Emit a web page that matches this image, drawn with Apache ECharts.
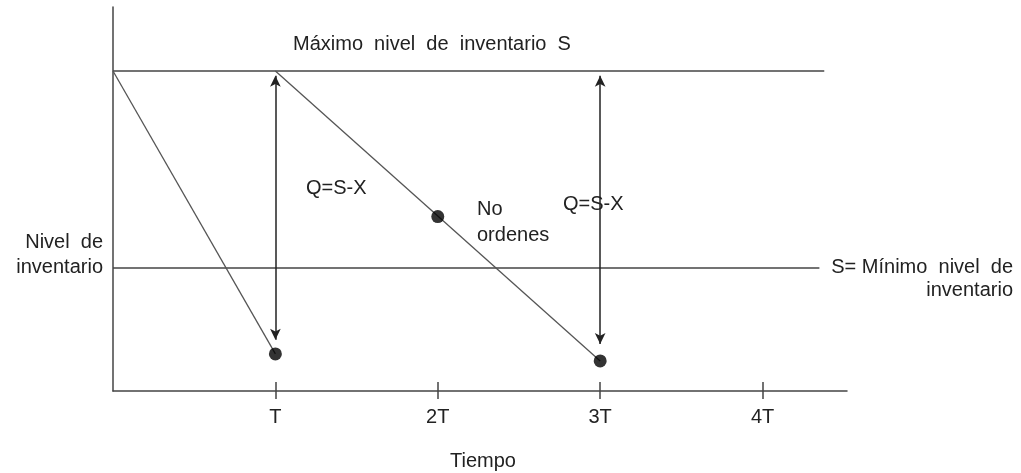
<!DOCTYPE html>
<html>
<head>
<meta charset="utf-8">
<script src="https://cdn.jsdelivr.net/npm/echarts@6/dist/echarts.min.js"></script>
<style>
  html, body { margin: 0; padding: 0; background: #fff; }
  #chart { width: 1021px; height: 473px; }
</style>
</head>
<body>
<div id="chart"></div>
<script>
// Periods on the time axis (in units of T) and their labels
const periods = [1, 2, 3, 4];
const periodLabels = ['', 'T', '2T', '3T', '4T'];

// Inventory levels
const maxLevel = 100;   // máximo nivel de inventario S
const minLevel = 38.4;  // mínimo nivel de inventario
const axisEnd = 4.52;
const maxLineEnd = 4.38;
const minLineEnd = 4.35;

// Consumption segments between reviews
const firstCycle = [[0, 100], [1, 11.6]];
const secondCycle = [[1, 100], [3, 9.4]];

// Review points (inventory at T, 2T, 3T)
const reviewPoints = [[1, 11.6], [2, 54.5], [3, 9.4]];

// Order quantity arrows Q = S - X
const orderArrows = [
  [[1, 98.5], [1, 16]],
  [[3, 98.5], [3, 14.7]]
];

const ink = '#222';
const lineGray = '#444';
const font = '"Liberation Sans", Arial, sans-serif';

const chart = echarts.init(document.getElementById('chart'));

const textEl = (x, y, text, align, lh) => ({
  type: 'text',
  x: x, y: y,
  style: {
    text: text, fill: ink, font: '20px ' + font,
    textAlign: align || 'left', textVerticalAlign: 'middle', lineHeight: lh || 24
  }
});

chart.setOption({
  animation: false,
  backgroundColor: '#fff',
  grid: { left: 113, right: 174, top: 7, bottom: 82 },
  xAxis: [
    {
      type: 'value', min: 0, max: axisEnd, interval: 1,
      axisLine: { lineStyle: { color: lineGray, width: 1.5 } },
      axisTick: { show: true, length: 8, lineStyle: { color: lineGray, width: 1.5 },
        customValues: periods },
      axisLabel: { color: ink, fontSize: 20, fontFamily: font, margin: 16,
        customValues: periods,
        formatter: v => periodLabels[Math.round(v)] || '' },
      splitLine: { show: false }
    },
    {
      type: 'value', min: 0, max: axisEnd, interval: 1, position: 'bottom',
      axisLine: { show: false },
      axisTick: { show: true, inside: true, length: 9, lineStyle: { color: lineGray, width: 1.5 },
        customValues: periods },
      axisLabel: { show: false },
      splitLine: { show: false }
    }
  ],
  yAxis: {
    type: 'value', min: 0, max: 120,
    axisLine: { show: true, lineStyle: { color: lineGray, width: 1.5 } },
    axisTick: { show: false },
    axisLabel: { show: false },
    splitLine: { show: false }
  },
  series: [
    {
      type: 'line', data: [[0, maxLevel], [maxLineEnd, maxLevel]],
      symbol: 'none', lineStyle: { color: lineGray, width: 1.5 }, z: 2
    },
    {
      type: 'line', data: [[0, minLevel], [minLineEnd, minLevel]],
      symbol: 'none', lineStyle: { color: lineGray, width: 1.5 }, z: 2
    },
    {
      type: 'line', data: firstCycle,
      symbol: 'none', lineStyle: { color: '#555', width: 1.3 }, z: 2
    },
    {
      type: 'line', data: secondCycle,
      symbol: 'none', lineStyle: { color: '#555', width: 1.3 }, z: 2,
      markLine: {
        silent: true,
        symbol: ['arrow', 'arrow'],
        symbolSize: [8, 11],
        label: { show: false },
        lineStyle: { color: '#222', width: 1.5, type: 'solid' },
        data: orderArrows.map(a => [{ coord: a[0] }, { coord: a[1] }])
      }
    },
    {
      type: 'scatter', data: reviewPoints,
      symbol: 'circle', symbolSize: 13,
      itemStyle: { color: '#000' }, z: 5
    }
  ],
  graphic: [
    textEl(293, 44, 'Máximo  nivel  de  inventario  S'),
    textEl(306, 188, 'Q=S-X'),
    textEl(563, 204, 'Q=S-X'),
    textEl(477, 222, 'No\nordenes', 'left', 26),
    textEl(103, 255, 'Nivel  de\ninventario', 'right', 25),
    textEl(1013, 279, 'S= Mínimo  nivel  de\ninventario', 'right', 23),
    textEl(483, 461, 'Tiempo', 'center')
  ]
});
</script>
</body>
</html>
